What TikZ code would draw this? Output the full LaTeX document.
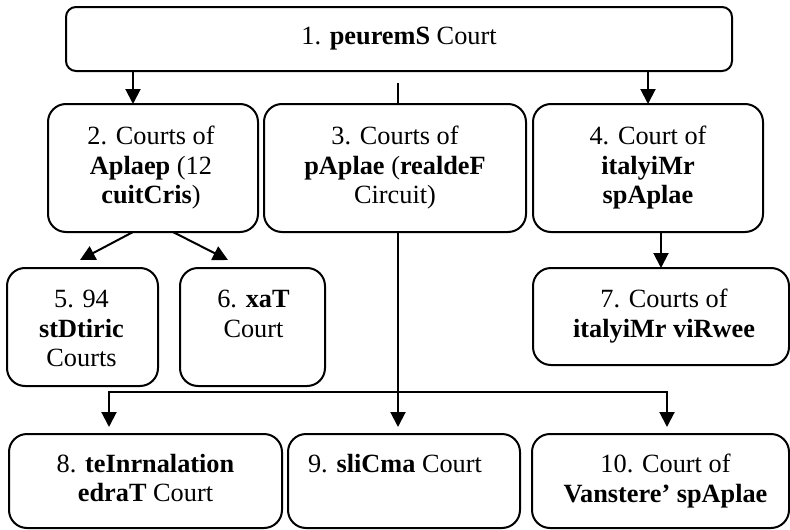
\documentclass[tikz,border=0pt]{standalone}
\usepackage{fontspec}
\setmainfont{Liberation Serif}
\usetikzlibrary{arrows.meta,calc}
\tikzset{
  box/.style={draw, line width=2pt, rounded corners=18pt, outer sep=0pt, inner sep=0pt, anchor=north west},
  txt/.style={align=center, inner sep=0pt, anchor=north, font=\fontsize{26.3}{29.5}\selectfont},
  tip/.style={Triangle[width=15pt,length=15pt]},
  arr/.style={line width=2pt, -{Triangle[width=15pt,length=15pt]}},
  dbl/.style={line width=2pt, {Triangle[width=15pt,length=15pt]}-{Triangle[width=15pt,length=15pt]}},
  ln/.style={line width=2pt},
}
\begin{document}
\begin{tikzpicture}[x=1pt,y=-1pt]
\useasboundingbox (0,0) rectangle (790,530);
% boxes
\node[box, rounded corners=10pt, minimum width=666pt, minimum height=64pt] (b1) at (66,7) {};
\node[box, minimum width=210pt, minimum height=128pt] (b2) at (48,104) {};
\node[box, minimum width=262pt, minimum height=128pt] (b3) at (264,104) {};
\node[box, minimum width=230pt, minimum height=128pt] (b4) at (533,104) {};
\node[box, minimum width=151pt, minimum height=118pt] (b5) at (7,268) {};
\node[box, minimum width=145pt, minimum height=118pt] (b6) at (180,268) {};
\node[box, minimum width=256pt, minimum height=97pt] (b7) at (533,268) {};
\node[box, minimum width=273pt, minimum height=94pt] (b8) at (9,434) {};
\node[box, minimum width=232pt, minimum height=94pt] (b9) at (288,434) {};
\node[box, minimum width=257pt, minimum height=94pt] (b10) at (532,434) {};
% texts
\node[txt, anchor=center] (t1) at (b1.center) {1. \textbf{peuremS} Court};
\node[txt] (t2) at ($(b2.north)+(-2,22)$) {2. Courts of\\\textbf{Aplaep} (12\\\textbf{cuitCris})};
\node[txt] (t3) at ($(b3.north)+(0,22)$) {3. Courts of\\\textbf{pAplae} (\textbf{realdeF}\\Circuit)};
\node[txt] (t4) at ($(b4.north)+(0,22)$) {4. Court of\\\textbf{italyiMr}\\\textbf{spAplae}};
\node[txt] (t5) at ($(b5.north)+(-1,22)$) {5. 94\\\textbf{stDtiric}\\Courts};
\node[txt] (t6) at ($(b6.north)+(1,22)$) {6. \textbf{xaT}\\Court};
\node[txt] (t7) at ($(b7.north)+(3,21)$) {7. Courts of\\\textbf{italyiMr viRwee}};
\node[txt] (t8) at ($(b8.north)+(0,20)$) {8. \textbf{teInrnalation}\\\textbf{edraT} Court};
\node[txt] (t9) at ($(b9.north)+(-9,20)$) {9. \textbf{sliCma} Court};
\node[txt] (t10) at ($(b10.north)+(5,20)$) {10. Court of\\\textbf{Vanstere’ spAplae}};
% connectors from box 1
\coordinate (a2) at ($(b2.north west)+(85,0)$);
\draw[arr] (b1.south -| a2) -- (a2);
\draw[arr] (b1.south -| b4.north) -- (b4.north);
\coordinate (m1) at ($(b1.south)+(-1,12)$);
\draw[ln] (m1) -- (b3.north -| m1);
% connectors from box 2
\coordinate (s5) at ($(b2.south west)+(85,0)$);
\coordinate (e5) at ($(b5.north west)+(73,-8)$);
\coordinate (s6) at ($(b2.south west)+(125,0)$);
\coordinate (e6) at ($(b6.north west)+(48,-8)$);
\draw[arr] (s5) -- (e5);
\draw[arr] (s6) -- (e6);
% connector from box 4
\draw[arr] (b4.south -| b7.north) -- (b7.north);
% connectors from box 3
\coordinate (m3) at (b3.south -| m1);
\coordinate (f) at ($(m3)+(0,160)$);
\coordinate (e8) at ($(b8.north west)+(100,-7)$);
\coordinate (e9) at (e8 -| m1);
\coordinate (e10) at ($(b10.north west)+(135,-7)$);
\draw[arr] (m3) -- (e9);
\draw[dbl] (e8) -- (e8 |- f) -- (e10 |- f) -- (e10);
\end{tikzpicture}
\end{document}
